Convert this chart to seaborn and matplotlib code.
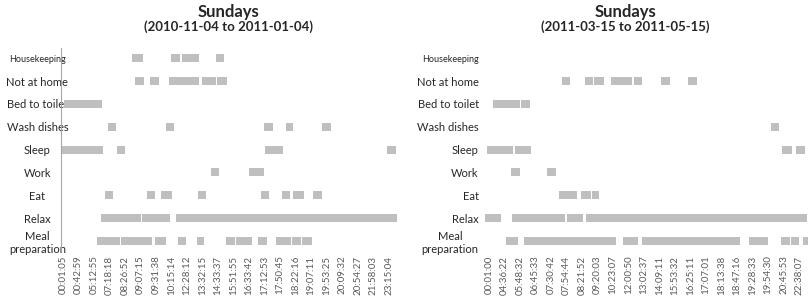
import matplotlib
matplotlib.use("Agg")
import matplotlib.pyplot as plt
import seaborn as sns

sns.set_style("white")
plt.rcParams["font.family"] = ["Lato", "DejaVu Sans"]

activities = ["Housekeeping", "Not at home", "Bed to toilet", "Wash dishes", "Sleep",
              "Work", "Eat", "Relax", "Meal preparation"]

left_ticks = ["00:01:05", "00:42:59", "05:12:55", "07:18:18", "08:26:52", "09:07:15",
              "09:31:38", "10:15:14", "12:28:12", "13:32:15", "14:33:37", "15:51:55",
              "16:33:42", "17:12:53", "17:50:45", "18:22:16", "19:07:11", "19:53:25",
              "20:09:32", "20:54:27", "21:58:03", "23:15:04"]
right_ticks = ["00:01:00", "04:36:22", "05:48:32", "06:45:33", "07:30:42", "07:54:44",
               "08:21:52", "09:20:03", "10:23:07", "12:00:50", "13:02:37", "14:09:11",
               "15:53:32", "16:25:11", "17:07:01", "18:13:38", "18:47:16", "19:28:33",
               "19:54:30", "20:45:53", "22:38:07"]

# segments (start, end) in tick-index units
left_housekeeping = [(4.43, 5.14), (6.95, 7.55), (7.68, 8.79), (9.87, 10.39)]
left_not_home = [(4.65, 5.23), (5.61, 6.19), (6.84, 8.77), (8.97, 9.87), (9.94, 10.58)]
left_bed_toilet = [(0.05, 2.52)]
left_wash = [(2.92, 3.42), (6.63, 7.16), (12.99, 13.57), (14.37, 14.86), (16.73, 17.27)]
left_sleep = [(-0.13, 2.6), (3.46, 4.0), (13.03, 14.17), (20.88, 21.48)]
left_work = [(9.53, 10.06), (12.02, 12.97)]
left_eat = [(2.71, 3.25), (5.44, 5.94), (6.32, 7.01), (8.69, 9.21), (12.77, 13.31),
            (14.11, 14.65), (14.85, 15.57), (16.15, 16.69)]
left_relax = [(2.43, 5.03), (5.12, 6.90), (7.29, 21.57)]
left_meal = [(2.17, 3.65), (3.72, 5.76), (5.94, 6.63), (7.44, 7.92), (8.63, 9.12),
             (10.52, 11.1), (11.16, 12.21), (12.6, 13.18), (13.74, 14.71),
             (14.79, 15.34), (15.4, 16.08)]

right_housekeeping = []
right_not_home = [(4.73, 5.23), (6.19, 6.73), (6.79, 7.44), (7.85, 9.21), (9.37, 9.89),
                  (11.1, 11.68), (12.86, 13.44)]
right_bed_toilet = [(0.28, 2.0), (2.06, 2.65)]
right_wash = [(18.19, 18.71)]
right_sleep = [(-0.15, 1.57), (1.68, 2.71), (18.88, 19.53), (19.79, 20.39)]
right_work = [(1.42, 2.0), (3.72, 4.3)]
right_eat = [(4.52, 5.66), (5.94, 6.58), (6.65, 7.1)]
right_relax = [(-0.26, 0.77), (1.5, 4.9), (5.05, 6.08), (6.26, 20.5)]
right_meal = [(1.08, 1.89), (2.28, 8.17), (8.66, 9.59), (9.89, 16.19), (16.77, 17.98),
              (18.82, 19.42), (19.48, 20.02), (20.28, 20.6)]

left_segments = [left_housekeeping, left_not_home, left_bed_toilet, left_wash, left_sleep,
                 left_work, left_eat, left_relax, left_meal]
right_segments = [right_housekeeping, right_not_home, right_bed_toilet, right_wash,
                  right_sleep, right_work, right_eat, right_relax, right_meal]

bar_color = "#BFBFBF"
fig = plt.figure(figsize=(8.1, 3.08), dpi=100)
bottom = 1 - 250 / 308
height = 202 / 308
axL = fig.add_axes([61 / 810, bottom, (398 - 61) / 810, height])
axR = fig.add_axes([485 / 810, bottom, (808 - 485) / 810, height])


def draw(ax, segments, ticks, xlim, ha, pad, spine):
    for i, segs in enumerate(segments):
        for s, e in segs:
            ax.barh(i, e - s, left=s, height=0.35, color=bar_color, linewidth=0)
    ax.set_xlim(*xlim)
    ax.set_ylim(8.4, -0.45)
    ax.set_xticks(range(len(ticks)))
    ax.set_xticklabels(ticks, rotation=90, fontsize=7, color="#595959")
    labels = [a if a != "Meal preparation" else "Meal\npreparation" for a in activities]
    ax.set_yticks(range(len(activities)))
    ax.set_yticklabels(labels, fontsize=8, color="#262626")
    for t in ax.get_yticklabels():
        t.set_horizontalalignment(ha)
        t.set_multialignment("center")
        if t.get_text() == "Housekeeping":
            t.set_fontsize(6.5)
    ax.tick_params(axis="y", length=0, pad=pad)
    ax.tick_params(axis="x", length=0, pad=4)
    for side in ["top", "right", "bottom", "left"]:
        ax.spines[side].set_visible(False)
    if spine:
        ax.spines["left"].set_visible(True)
        ax.spines["left"].set_color("#A6A6A6")
        ax.spines["left"].set_linewidth(0.8)


draw(axL, left_segments, left_ticks, (-0.13, 21.61), "center", 17, True)
draw(axR, right_segments, right_ticks, (-0.26, 20.58), "right", 4.5, False)

fig.text(228 / 810, 1 - 12 / 308, "Sundays", ha="center", va="center",
         fontsize=12, fontweight="bold")
fig.text(228 / 810, 1 - 27 / 308, "(2010-11-04 to 2011-01-04)", ha="center",
         va="center", fontsize=9.5, fontweight="bold")
fig.text(625 / 810, 1 - 12 / 308, "Sundays", ha="center", va="center",
         fontsize=12, fontweight="bold")
fig.text(625 / 810, 1 - 27 / 308, "(2011-03-15 to 2011-05-15)", ha="center",
         va="center", fontsize=9.5, fontweight="bold")

fig.savefig("out.png", dpi=100)
